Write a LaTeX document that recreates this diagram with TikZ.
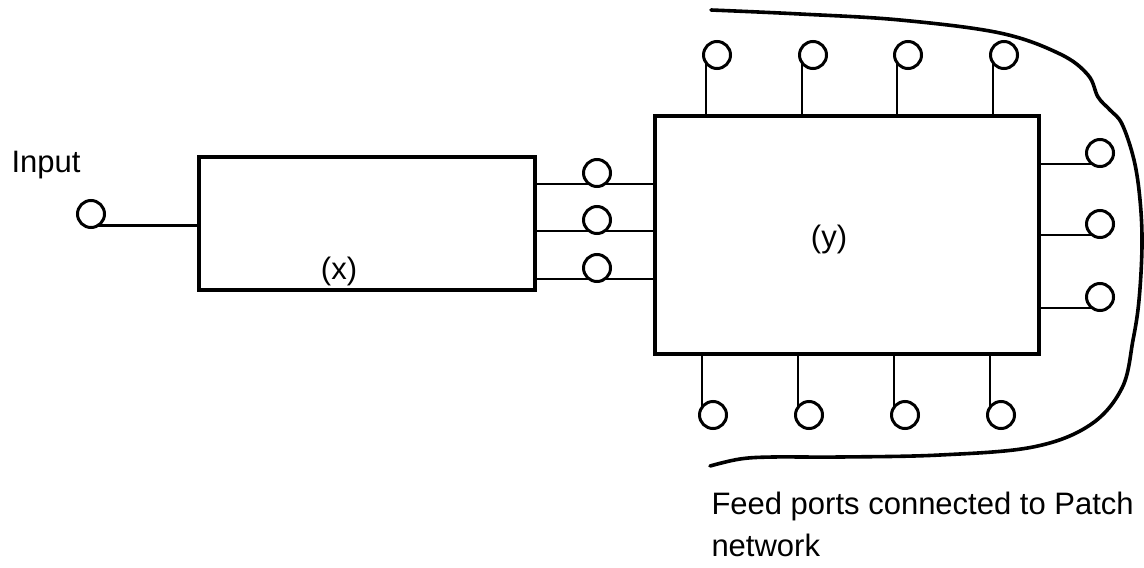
\documentclass[tikz,border=0pt]{standalone}
\usepackage{fontspec}
\setmainfont{Liberation Sans}
\begin{document}
\begin{tikzpicture}[x=0.5pt,y=-0.5pt,
  line width=1.5pt,
  blk/.style={draw, line width=1.6pt, inner sep=0pt, outer sep=0pt},
  port/.style={draw, circle, fill=white, minimum size=13.5pt, inner sep=0pt, outer sep=0pt, line width=1.5pt},
  lbl/.style={font=\fontsize{15.5pt}{21pt}\selectfont, inner sep=0pt},
  wire/.style={line width=1.4pt}]
\useasboundingbox (0,0) rectangle (1144,567);
% blocks
\node[blk, minimum width=168pt, minimum height=66.5pt] (X) at (367,223.5) {};
\node[blk, minimum width=192pt, minimum height=119pt] (Y) at (847,235) {};
\node[lbl] (xl) at (339,271) {(x)};
\node[lbl] (yl) at (829,239) {(y)};
% input
\node[lbl, anchor=base west] (inl) at (10,172) {Input};
\node[port] (in) at (91,214) {};
\draw[wire] (in.300) -- (in.300 -| X.west);
% middle ports
\foreach \i/\y in {1/173,2/220,3/268}{
  \node[port] (m\i) at (597,\y) {};
  \draw[wire] (m\i.235 -| X.east) -- (m\i.235);
  \draw[wire] (m\i.305) -- (m\i.305 -| Y.west);
}
% top ports
\foreach \i/\x in {1/717,2/813,3/908,4/1004}{
  \node[port] (t\i) at (\x,55) {};
  \draw[wire] (t\i.215) -- (t\i.215 |- Y.north);
}
% bottom ports
\foreach \i/\x in {1/713,2/809,3/905,4/1001}{
  \node[port] (b\i) at (\x,415) {};
  \draw[wire] (b\i.145) -- (b\i.145 |- Y.south);
}
% right ports
\foreach \i/\y in {1/153,2/224,3/297}{
  \node[port] (r\i) at (1100,\y) {};
  \draw[wire] (Y.east |- r\i.235) -- (r\i.235);
}
% enclosing curve
\draw[line width=1.8pt, line cap=round] plot[smooth, tension=0.6] coordinates {
 (711,10) (800,14) (900,20) (1000,33) (1060,54) (1088,75) (1098,97) (1110,110)
 (1122,124) (1134,160) (1140,200) (1142,245) (1139,300) (1133,340) (1122,388)
 (1090,425) (1033,447) (940,455) (840,457) (773,457) (740,459) (710,466)};
% caption
\node[lbl, anchor=north west, align=left] (cap) at (710,491) {Feed ports connected to Patch\\network};
\end{tikzpicture}
\end{document}
